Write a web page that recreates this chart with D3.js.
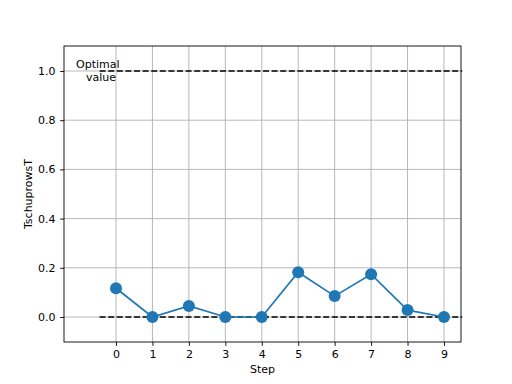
<!DOCTYPE html>
<html><head><meta charset="utf-8">
<script src="https://cdn.jsdelivr.net/npm/d3@7"></script>
<style>body{margin:0;background:#fff}svg{display:block}text{font-family:"DejaVu Sans",sans-serif}</style>
</head><body><svg id="c" width="512" height="384"></svg>
<script>
const steps = [0,1,2,3,4,5,6,7,8,9];
const values = [0.117,0.0,0.045,0.0,0.0,0.182,0.085,0.174,0.028,0.0];
const xTicks = [0,1,2,3,4,5,6,7,8,9];
const yTicks = [0.0,0.2,0.4,0.6,0.8,1.0];
const optimalLines = [0.0,1.0];
const hlineRange = [-0.45,9.5];
const xDomain = [-1.427,9.467];
const yDomain = [-0.1016,1.1016];

const svg = d3.select("#c");
const L=64,R=461,T=46,B=342;
const x = d3.scaleLinear().domain(xDomain).range([L,R]);
const y = d3.scaleLinear().domain(yDomain).range([B,T]);

// grid
svg.append("g").selectAll("line").data(xTicks).join("line")
  .attr("x1",d=>x(d)).attr("x2",d=>x(d)).attr("y1",T).attr("y2",B)
  .attr("stroke","#b0b0b0").attr("stroke-width",0.9);
svg.append("g").selectAll("line").data(yTicks).join("line")
  .attr("x1",L).attr("x2",R).attr("y1",d=>y(d)).attr("y2",d=>y(d))
  .attr("stroke","#b0b0b0").attr("stroke-width",0.9);

// dashed lines
svg.append("g").selectAll("line").data(optimalLines).join("line")
  .attr("x1",x(hlineRange[0])).attr("x2",x(hlineRange[1])).attr("y1",d=>y(d)).attr("y2",d=>y(d))
  .attr("stroke","#000").attr("stroke-width",1.7).attr("stroke-dasharray","6,2.6");

// line + markers
svg.append("path").datum(values)
  .attr("d", d3.line().x((d,i)=>x(steps[i])).y(d=>y(d)))
  .attr("fill","none").attr("stroke","#1f77b4").attr("stroke-width",1.67);
svg.append("g").selectAll("circle").data(values).join("circle")
  .attr("cx",(d,i)=>x(steps[i])).attr("cy",d=>y(d)).attr("r",6)
  .attr("fill","#1f77b4");

// axes
const xa = svg.append("g").attr("transform",`translate(0,${B})`)
  .call(d3.axisBottom(x).tickValues(xTicks).tickFormat(d3.format("d")).tickSizeOuter(0).tickSize(3.9).tickPadding(4.5));
const ya = svg.append("g").attr("transform",`translate(${L},0)`)
  .call(d3.axisLeft(y).tickValues(yTicks).tickFormat(d3.format(".1f")).tickSizeOuter(0).tickSize(3.9).tickPadding(4.5));
[xa,ya].forEach(a=>{a.select(".domain").remove();
  a.selectAll("text").attr("font-family","DejaVu Sans").attr("font-size",11).attr("fill","#000");
  a.selectAll(".tick line").attr("stroke","#000").attr("stroke-width",0.9);});

// frame
svg.append("rect").attr("x",L).attr("y",T).attr("width",R-L).attr("height",B-T)
  .attr("fill","none").attr("stroke","#000").attr("stroke-width",0.9);

// labels
svg.append("text").attr("x",(L+R)/2).attr("y",373).attr("text-anchor","middle").attr("font-size",11).text("Step");
svg.append("text").attr("transform",`translate(32,${(T+B)/2}) rotate(-90)`).attr("text-anchor","middle").attr("font-size",11).text("TschuprowsT");
svg.append("text").attr("x",76).attr("y",68).attr("font-size",11).text("Optimal");
svg.append("text").attr("x",86).attr("y",81).attr("font-size",11).text("value");
</script></body></html>
